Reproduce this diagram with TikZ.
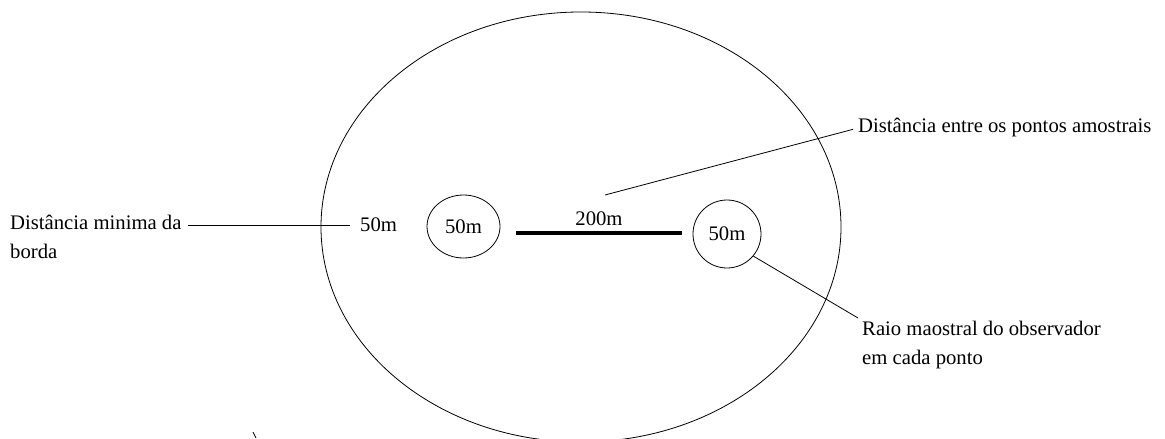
\documentclass[tikz,border=0pt]{standalone}
\usepackage{fontspec}
\setmainfont{Liberation Serif}
\usetikzlibrary{shapes.geometric}
\begin{document}
\begin{tikzpicture}[x=1pt,y=-1pt,
  lab/.style={inner sep=0pt, font=\fontsize{20.7}{29}\selectfont, align=left},
  thin/.style={line width=0.8pt},
  bar/.style={line width=3.2pt},
  spot/.style={draw, thin, ellipse, inner sep=0pt, font=\fontsize{20.7}{29}\selectfont}]
\useasboundingbox (0,0) rectangle (1165,439);
\clip (0,0) rectangle (1165,439);
% outer area
\draw[thin] (581,227) ellipse [x radius=260, y radius=215];
% sample points
\node[spot, minimum width=73, minimum height=63] (c1) at (463.5,226.5) {50m};
\node[spot, minimum width=68, minimum height=68] (c2) at (727,234) {50m};
% distance bar
\coordinate (t1) at (516,233);
\coordinate (t2) at (682,233);
\draw[bar] (t1) -- (t2) node[lab, midway, above=6pt] (d200) {200m};
% labels
\node[lab, anchor=north west] (dmin) at (10,215) {Distância minima da\\borda};
\node[lab, anchor=west] (e50) at (360,225) {50m};
\coordinate (dminend) at (188,225);
\coordinate (e50end) at (350,225);
\draw[thin] (dminend) -- (e50end);
\node[lab, anchor=west] (dist) at (858,128) {Distância entre os pontos amostrais};
\coordinate (p1) at (605,195);
\draw[thin, shorten >=5pt] (p1) -- (dist.west);
\node[lab, anchor=north west] (raio) at (862,321) {Raio maostral do observador\\em cada ponto};
\coordinate (r1) at (858,318);
\draw[thin] (c2.-40) -- (r1);
% small stray mark
\coordinate (m1) at (253,432);
\coordinate (m2) at (256,438);
\draw[line width=0.7pt] (m1) -- (m2);
\end{tikzpicture}
\end{document}
